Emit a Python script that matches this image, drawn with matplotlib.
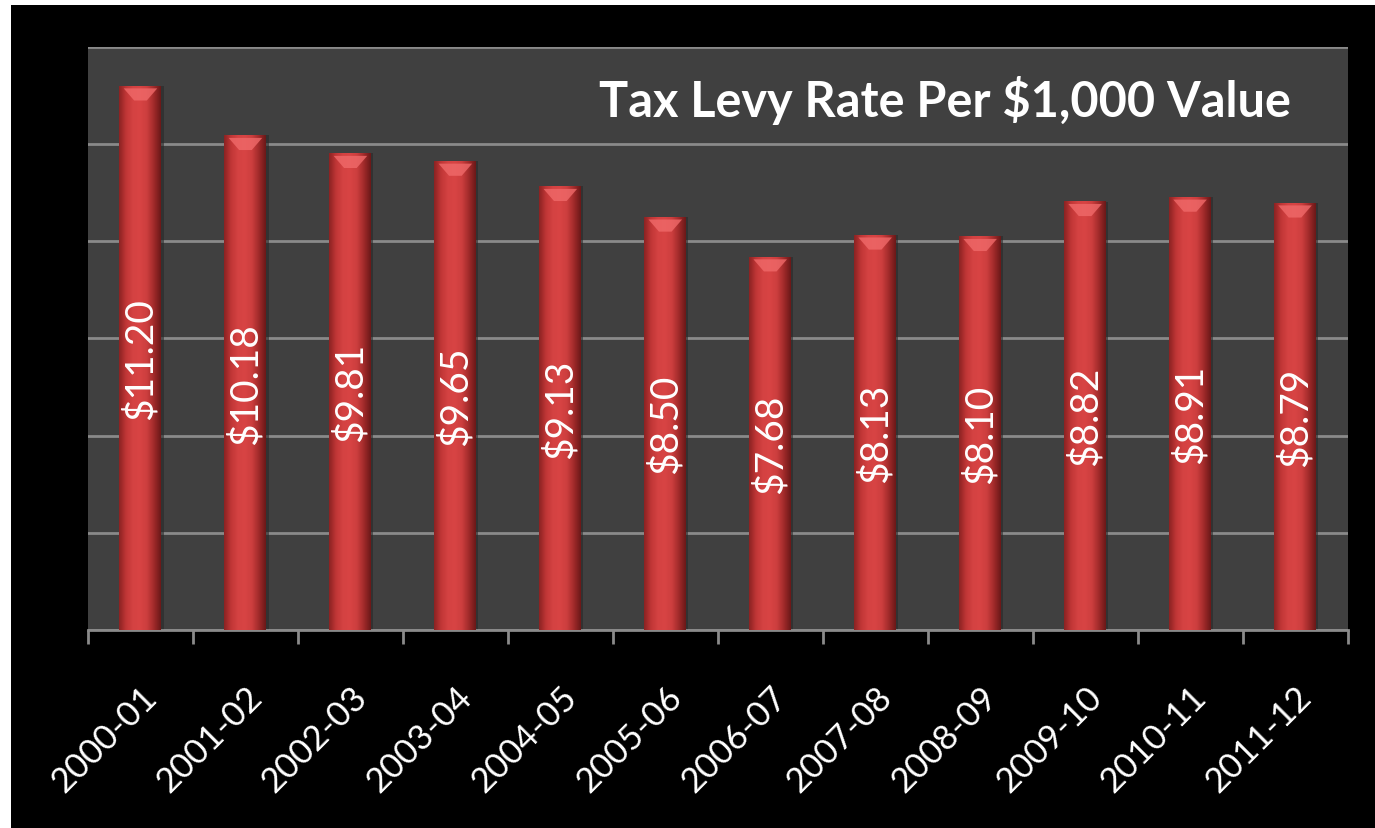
import numpy as np
import matplotlib.pyplot as plt
from matplotlib.colors import LinearSegmentedColormap
from matplotlib.patches import Rectangle

years = ['2000-01', '2001-02', '2002-03', '2003-04', '2004-05', '2005-06',
         '2006-07', '2007-08', '2008-09', '2009-10', '2010-11', '2011-12']
rates = [11.20, 10.18, 9.81, 9.65, 9.13, 8.50, 7.68, 8.13, 8.10, 8.82, 8.91, 8.79]
title = 'Tax Levy Rate Per $1,000 Value'

plt.rcParams['font.family'] = ['Lato', 'DejaVu Sans']

fig = plt.figure(figsize=(13.75, 8.29), dpi=100, facecolor='white')
# black slide background, leaving a thin white margin top-left
fig.patches.append(Rectangle((11 / 1375, 0), 1 - 11 / 1375, 1 - 6 / 829,
                             transform=fig.transFigure, facecolor='black',
                             edgecolor='none', zorder=-10))

ax = fig.add_axes([0.064, 0.239, 0.916, 0.703])
ax.set_facecolor('#404040')

x = np.arange(len(years))
bars = ax.bar(x, rates, width=0.4, color='#c83a3a', zorder=2)

# cylinder-like shading across each bar
shade = LinearSegmentedColormap.from_list(
    'shade', ['#8a2222', '#c03636', '#d44242', '#d84444', '#cc3e3e', '#a02a2a', '#6a1818'])
grad = np.linspace(0, 1, 256).reshape(1, -1)
for b in bars:
    x0, w, h = b.get_x(), b.get_width(), b.get_height()
    # soft shadow on the right
    ax.bar(x0 + w / 2 + 0.02, h, width=w, color='#2a2a2a', alpha=0.6, zorder=1.5)
    ax.imshow(grad, cmap=shade, aspect='auto', extent=(x0, x0 + w, 0, h),
              zorder=3, interpolation='bicubic')
    # lighter cap at the top of the bar
    ax.fill([x0 + 0.04, x0 + w - 0.04, x0 + w / 2 + 0.06, x0 + w / 2 - 0.06],
            [h - 0.05, h - 0.05, h - 0.3, h - 0.3], color='#f06a6a', alpha=0.8,
            zorder=3.5, lw=0)
    ax.text(x0 + w / 2, h / 2, f'${h:.2f}', rotation=90, ha='center', va='center',
            color='white', fontsize=28, zorder=4)

ax.set_xlim(-0.5, len(years) - 0.5)
ax.set_ylim(0, 12)
ax.set_yticks(np.arange(0, 13, 2))
ax.yaxis.grid(True, color='#8a8a8a', linewidth=2, zorder=0)
ax.set_axisbelow(True)
ax.tick_params(axis='y', length=0, labelleft=False)

ax.set_xticks(x)
ax.set_xticklabels(years, rotation=45, ha='right', rotation_mode='anchor',
                   color='white', fontsize=25)
ax.tick_params(axis='x', length=0, pad=36)
ax.set_xticks(np.arange(-0.5, len(years)), minor=True)
ax.tick_params(axis='x', which='minor', length=10, width=2, color='#8a8a8a')

for side in ['left', 'right', 'top']:
    ax.spines[side].set_visible(False)
ax.spines['bottom'].set_color('#8a8a8a')
ax.spines['bottom'].set_linewidth(2)

ax.text(0.955, 0.91, title, transform=ax.transAxes, ha='right', va='center',
        color='white', fontsize=35, fontweight='bold', zorder=5)

fig.savefig('out.png', dpi=100, facecolor='white')
